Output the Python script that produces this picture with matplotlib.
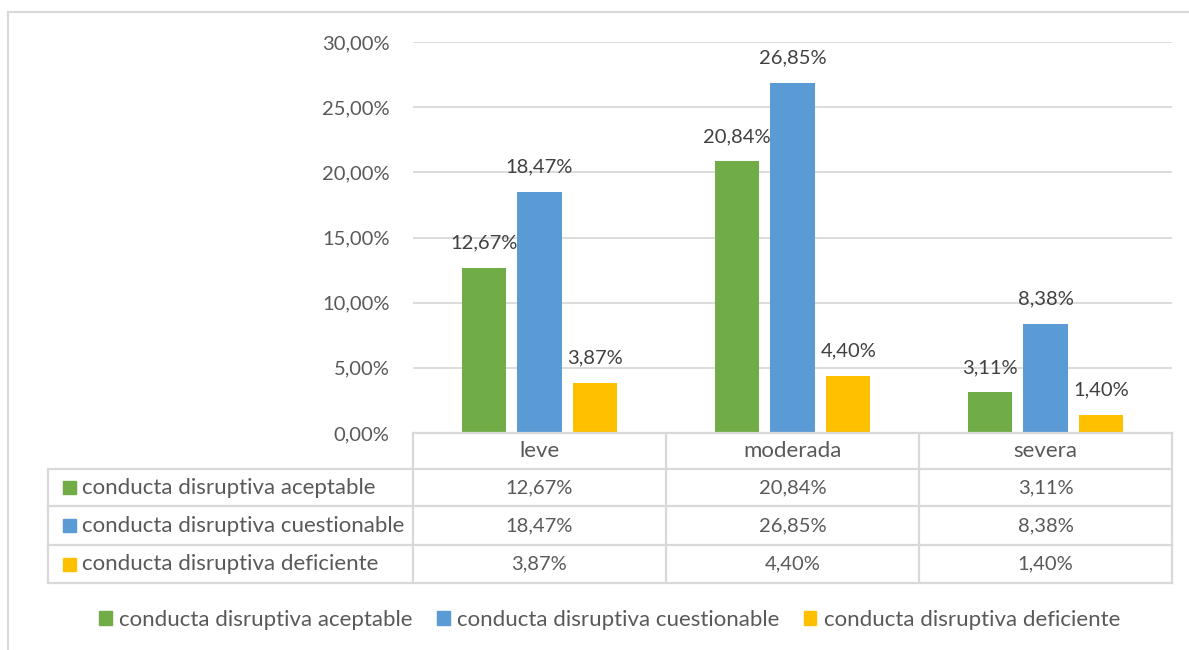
import matplotlib.pyplot as plt
from matplotlib.patches import Patch
from matplotlib.lines import Line2D
import matplotlib.transforms as mtransforms

plt.rcParams['font.family'] = ['Lato', 'DejaVu Sans']

# datos
categorias = ['leve', 'moderada', 'severa']
series = ['conducta disruptiva aceptable',
          'conducta disruptiva cuestionable',
          'conducta disruptiva deficiente']
aceptable = [12.67, 20.84, 3.11]
cuestionable = [18.47, 26.85, 8.38]
deficiente = [3.87, 4.40, 1.40]
valores = [aceptable, cuestionable, deficiente]
colores = ['#70AD47', '#5B9BD5', '#FFC000']
yticks = [0, 5, 10, 15, 20, 25, 30]

W, H = 1189, 650
TXT = '#595959'
GRID = '#D9D9D9'
FS = 14.5    # numeros
FS_T = 16    # textos


def fx(x):
    return x / W


def fy(y):
    return 1 - y / H


def pct(v):
    return f"{v:.2f}%".replace('.', ',')


fig = plt.figure(figsize=(W / 100, H / 100), dpi=100)
ax = fig.add_axes([fx(413), fy(433), fx(1172) - fx(413), fy(42) - fy(433)])

ancho = 0.174
paso = 0.221
for j, (nombre, vals) in enumerate(zip(series, valores)):
    xs = [i + (j - 1) * paso for i in range(len(categorias))]
    ax.bar(xs, vals, width=ancho, color=colores[j], zorder=3)
    for x, v in zip(xs, vals):
        ax.annotate(pct(v), (x, v), xytext=(0, 18),
                    textcoords='offset points', ha='center', va='center',
                    fontsize=FS, color='#404040')

ax.set_xlim(-0.5, len(categorias) - 0.5)
ax.set_ylim(0, 30)
ax.set_yticks(yticks)
ax.set_yticklabels([pct(t) for t in yticks], fontsize=FS, color=TXT)
ax.tick_params(axis='y', length=0, pad=17)
ax.set_xticks([])
ax.grid(axis='y', color=GRID, linewidth=1.3, zorder=0)
for s in ax.spines.values():
    s.set_visible(False)

# tabla de datos bajo el grafico
tr = mtransforms.blended_transform_factory(ax.transData, fig.transFigure)
filas = [fy(433), fy(469), fy(506), fy(545), fy(583)]
x_izq = -0.5 - (413 - 48) / (1172 - 413) * 3

def linea(x0, x1, y0, y1):
    fig.add_artist(Line2D([x0, x1], [y0, y1], transform=tr, color=GRID,
                          linewidth=1.6))

# lineas horizontales
linea(-0.5, 2.5, filas[0], filas[0])
for y in filas[1:]:
    linea(x_izq, 2.5, y, y)
# lineas verticales
linea(x_izq, x_izq, filas[1], filas[-1])
for k in range(len(categorias) + 1):
    linea(k - 0.5, k - 0.5, filas[0], filas[-1])

for i, cat in enumerate(categorias):
    fig.text(i, (filas[0] + filas[1]) / 2, cat, transform=tr, ha='center',
             va='center', fontsize=FS_T, color=TXT)
for j, (nombre, vals) in enumerate(zip(series, valores)):
    yc = (filas[j + 1] + filas[j + 2]) / 2
    for i, v in enumerate(vals):
        fig.text(i, yc, pct(v), transform=tr,
                 ha='center', va='center', fontsize=FS, color=TXT)
    fig.patches.append(plt.Rectangle((fx(63), yc - 6.5 / H), 13 / W, 13 / H,
                                     transform=fig.transFigure,
                                     color=colores[j]))
    fig.text(fx(82), yc, nombre, ha='left', va='center', fontsize=FS_T,
             color=TXT)

# leyenda
handles = [Patch(color=c) for c in colores]
fig.legend(handles, series, loc='center', bbox_to_anchor=(fx(610), fy(620)),
           ncol=3, frameon=False, fontsize=FS_T, labelcolor=TXT,
           handlelength=0.55, handleheight=0.55, handletextpad=0.35,
           columnspacing=1.1)

# borde exterior
fig.add_artist(Line2D([fx(8), fx(8)], [fy(12), 0], color=GRID, linewidth=1.5))
fig.add_artist(Line2D([fx(8), 1], [fy(12), fy(12)], color=GRID, linewidth=1.5))

fig.savefig('out.png', dpi=100)
